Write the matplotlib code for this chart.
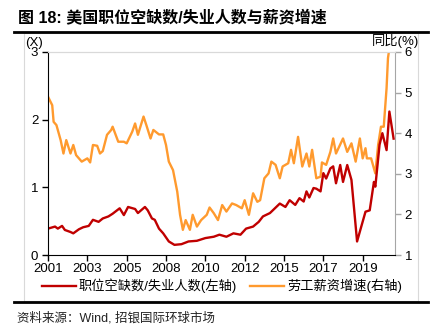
import matplotlib
matplotlib.use("Agg")
import matplotlib.pyplot as plt
from matplotlib.lines import Line2D
from matplotlib.patches import Rectangle

plt.rcParams['font.family'] = ['Liberation Sans', 'Noto Sans CJK SC', 'DejaVu Sans']

# months since Jan 2001 (axis is a category-like monthly axis)
tick_labels = ["2001", "2003", "2005", "2008", "2010", "2012", "2015", "2017", "2019"]
tick_pos = [0, 28, 56, 84, 112, 140, 168, 196, 224]

ratio_x = [0, 5, 7, 10, 12, 16, 18, 22, 25, 29, 32, 36, 39, 43, 46, 51, 54, 57,
           62, 64, 69, 71, 74, 76, 79, 82, 86, 90, 95, 100, 106, 112, 118, 122,
           127, 132, 137, 141, 146, 150, 153, 158, 160, 165, 169, 172, 176, 179,
           182, 184, 186, 189, 191, 194, 196, 198, 201, 203, 205, 208, 210, 213,
           216, 220, 223, 226, 229, 232, 233, 236, 238, 241, 243, 246]
ratio_y = [0.39, 0.42, 0.39, 0.43, 0.37, 0.34, 0.32, 0.38, 0.41, 0.43, 0.52, 0.49,
           0.54, 0.57, 0.61, 0.69, 0.59, 0.71, 0.68, 0.62, 0.71, 0.66, 0.54, 0.52,
           0.39, 0.32, 0.20, 0.15, 0.16, 0.20, 0.21, 0.25, 0.27, 0.30, 0.27, 0.32,
           0.30, 0.39, 0.42, 0.49, 0.57, 0.62, 0.66, 0.76, 0.71, 0.81, 0.74, 0.84,
           0.79, 0.94, 0.85, 0.99, 0.98, 0.94, 1.21, 1.13, 1.28, 1.31, 1.06, 1.33,
           1.08, 1.33, 1.11, 0.20, 0.42, 0.64, 0.66, 1.08, 1.01, 1.63, 1.80, 1.55,
           2.12, 1.72]

wage_x = [0, 3, 4, 6, 9, 11, 13, 16, 18, 20, 24, 28, 30, 32, 35, 37, 39, 42, 45,
          46, 50, 54, 56, 60, 62, 64, 68, 70, 73, 75, 79, 82, 84, 86, 89, 92, 94,
          96, 98, 101, 103, 106, 109, 113, 115, 118, 121, 124, 127, 131, 134, 138,
          140, 143, 146, 149, 151, 154, 157, 159, 162, 165, 167, 171, 173, 175,
          178, 181, 184, 186, 188, 191, 194, 195, 198, 201, 203, 205, 210, 213,
          216, 219, 222, 224, 226, 227, 230, 233, 235, 237, 239, 241, 242, 243, 245]
wage_y = [4.90, 4.69, 4.28, 4.20, 3.83, 3.50, 3.83, 3.50, 3.71, 3.46, 3.30, 3.38,
          3.28, 3.71, 3.69, 3.50, 3.56, 3.96, 4.08, 4.16, 3.79, 3.79, 3.75, 4.04,
          4.24, 3.96, 4.41, 4.20, 3.87, 4.08, 3.97, 3.97, 3.71, 3.30, 3.09, 2.56,
          1.99, 1.62, 1.86, 1.62, 1.99, 1.70, 1.86, 1.99, 2.17, 2.03, 1.86, 2.23,
          2.07, 2.27, 2.23, 2.15, 2.35, 1.99, 2.52, 2.31, 2.35, 2.89, 3.01, 3.30,
          3.22, 2.89, 3.18, 3.26, 3.59, 3.26, 3.91, 3.18, 3.50, 3.18, 3.59, 2.89,
          2.93, 3.28, 3.22, 3.54, 3.87, 3.50, 3.87, 3.54, 3.75, 3.30, 3.87, 3.38,
          3.63, 3.38, 3.38, 3.01, 3.71, 4.16, 4.16, 5.11, 5.85, 6.09, 6.30]

RED = '#C00000'
ORANGE = '#FF9A2E'

fig = plt.figure(figsize=(4.39, 3.35), dpi=100)
ax = fig.add_axes([48/439, 1-255/335, (395-48)/439, (255-52)/335])
ax2 = ax.twinx()

ax2.plot(wage_x, wage_y, color=ORANGE, lw=1.7, solid_joinstyle='round')
ax.plot(ratio_x, ratio_y, color=RED, lw=1.7, solid_joinstyle='round')
ax.set_zorder(ax2.get_zorder() + 1)
ax.patch.set_visible(False)

ax.set_xlim(0, 247)
ax.set_ylim(0, 3)
ax2.set_ylim(1, 6)
ax.set_yticks([0, 1, 2, 3])
ax2.set_yticks([1, 2, 3, 4, 5, 6])
ax.set_xticks(tick_pos)
ax.set_xticklabels(tick_labels)

for a in (ax, ax2):
    a.tick_params(labelsize=9.5, length=4, width=1, pad=2)
ax.tick_params(axis='y', colors='black', pad=3)
ax2.tick_params(axis='y', color='#A6A6A6', labelcolor='black', pad=3)

ax.spines['left'].set_color('black')
ax.spines['bottom'].set_color('black')
ax.spines['top'].set_color('#D9D9D9')
ax.spines['right'].set_visible(False)
ax2.spines['left'].set_visible(False)
ax2.spines['bottom'].set_visible(False)
ax2.spines['top'].set_color('#D9D9D9')
ax2.spines['right'].set_color('#A6A6A6')

fig.text(25/439, 1-43/335, "(X)", fontsize=9.5, ha='left', va='center')
fig.text(419/439, 1-41/335, "同比(%)", fontsize=9.5, ha='right', va='center')

handles = [Line2D([], [], color=RED, lw=1.7), Line2D([], [], color=ORANGE, lw=1.7)]
fig.legend(handles, ["职位空缺数/失业人数(左轴)", "劳工薪资增速(右轴)"],
           loc='center', bbox_to_anchor=(0.505, 1-286/335), ncol=2, frameon=False,
           fontsize=9.5, handlelength=2.6, handletextpad=0.2, columnspacing=1.0)

fig.text(18/439, 1-17/335, "图 18: 美国职位空缺数/失业人数与薪资增速", fontsize=11.5,
         fontweight='bold', ha='left', va='center')
fig.add_artist(Rectangle((24/439, 1-301/335), (418-24)/439, (301-33)/335,
                         transform=fig.transFigure, fill=False, ec='#D9D9D9', lw=0.8))
fig.add_artist(Line2D([14/439, 428/439], [1-32/335, 1-32/335], color='black', lw=2))
fig.add_artist(Line2D([14/439, 428/439], [1-302/335, 1-302/335], color='black', lw=2))
fig.text(17/439, 1-318/335, "资料来源：Wind, 招银国际环球市场", fontsize=9,
         ha='left', va='center', color='#222222')

fig.savefig("out.png", dpi=100)
